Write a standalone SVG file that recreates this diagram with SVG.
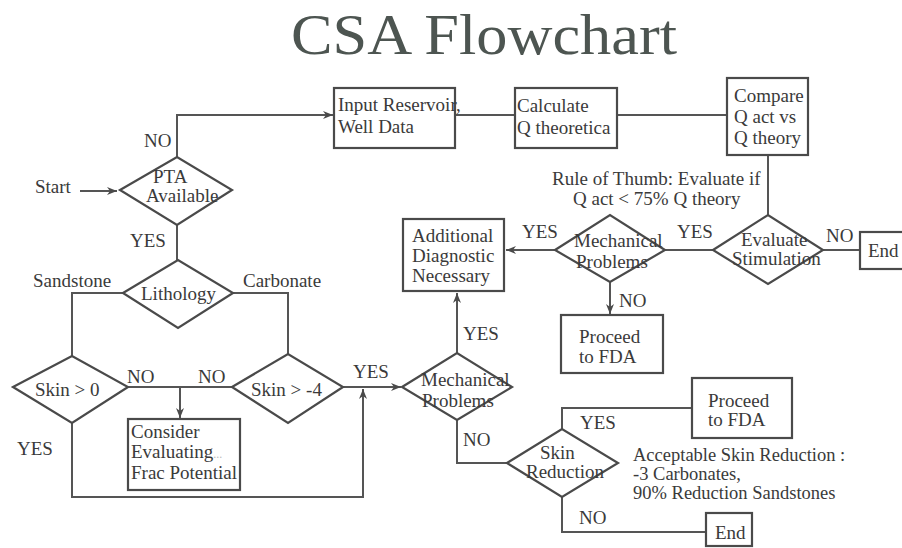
<svg xmlns="http://www.w3.org/2000/svg" width="902" height="548" viewBox="0 0 902 548">
<defs>
<marker id="arr" markerWidth="12" markerHeight="10" refX="10" refY="4" orient="auto" markerUnits="userSpaceOnUse">
<path d="M0,0 L10,4 L0,8 L3,4 z" fill="#4a4a4a"/>
</marker>
<style>
.t{font-family:"Liberation Serif","DejaVu Serif","Times New Roman",serif;font-size:19px;fill:#3a3a3a}
.n{font-size:18.5px}
.box{fill:none;stroke:#4a4a4a;stroke-width:2.2}
.dia{fill:none;stroke:#4a4a4a;stroke-width:2.2}
.c{fill:none;stroke:#555;stroke-width:2}
.a{marker-end:url(#arr)}
</style>
</defs>
<rect width="902" height="548" fill="#ffffff"/>
<text x="291" y="54" font-family="Liberation Serif, DejaVu Serif, Times New Roman, serif" font-size="58" fill="#4d5551" textLength="386" lengthAdjust="spacingAndGlyphs">CSA Flowchart</text>

<g id="connectors">
<path class="c a" d="M80,191 H117"/>
<path class="c a" d="M177,157 V115 H333"/>
<path class="c" d="M455,115 H515"/>
<path class="c" d="M617,115 H727"/>
<path class="c" d="M768,155 V215"/>
<path class="c" d="M823,250 H860"/>
<path class="c" d="M713,250 H665"/>
<path class="c a" d="M555,250 H506"/>
<path class="c a" d="M610,282 V314"/>
<path class="c" d="M177,225 V260"/>
<path class="c" d="M123,293 H72 V356"/>
<path class="c" d="M233,293 H288 V354"/>
<path class="c" d="M128,387 H232"/>
<path class="c a" d="M180,387 V418"/>
<path class="c a" d="M72,423 V497 H363 V389"/>
<path class="c a" d="M343,387 H401"/>
<path class="c a" d="M457,353 V293"/>
<path class="c" d="M457,420 V463 H507"/>
<path class="c" d="M562,429 V408 H692"/>
<path class="c" d="M562,497 V532 H706"/>
</g>

<g id="start"><text class="t" x="35" y="193">Start</text></g>

<g id="pta">
<polygon class="dia" points="120,190 177,157 232,190 177,225"/>
<text class="t" x="153" y="183">PTA</text>
<text class="t" x="146" y="202">Available</text>
</g>

<g id="input">
<rect class="box" x="334" y="88" width="121" height="60"/>
<text class="t" x="338" y="111">Input Reservoir,</text>
<text class="t" x="338" y="133">Well Data</text>
</g>

<g id="calculate">
<rect class="box" x="515" y="88" width="102" height="60"/>
<text class="t" x="517" y="112">Calculate</text>
<text class="t" x="517" y="134">Q theoretica</text>
</g>

<g id="compare">
<rect class="box" x="727" y="78" width="81" height="77"/>
<text class="t" x="734" y="102">Compare</text>
<text class="t" x="734" y="123">Q act vs</text>
<text class="t" x="734" y="144">Q theory</text>
</g>

<g id="rule">
<text class="t" x="552" y="185">Rule of Thumb: Evaluate  if</text>
<text class="t" x="573" y="205">Q act &lt; 75% Q theory</text>
</g>

<g id="evaluate">
<polygon class="dia" points="713,250 768,215 823,250 768,284"/>
<text class="t" x="741" y="246">Evaluate</text>
<text class="t" x="732" y="265">Stimulation</text>
</g>

<g id="end1">
<rect class="box" x="860" y="232" width="48" height="37"/>
<text class="t" x="868" y="257">End</text>
</g>

<g id="mech1">
<polygon class="dia" points="555,250 610,215 665,250 610,282"/>
<text class="t" x="574" y="247">Mechanical</text>
<text class="t" x="576" y="268">Problems</text>
</g>

<g id="additional">
<rect class="box" x="403" y="219" width="101" height="72"/>
<text class="t" x="412" y="242">Additional</text>
<text class="t" x="412" y="262">Diagnostic</text>
<text class="t" x="412" y="282">Necessary</text>
</g>

<g id="proceed1">
<rect class="box" x="561" y="315" width="102" height="58"/>
<text class="t" x="579" y="343">Proceed</text>
<text class="t" x="579" y="363">to FDA</text>
</g>

<g id="lithology">
<polygon class="dia" points="123,293 178,260 233,293 178,328"/>
<text class="t" x="141" y="300">Lithology</text>
</g>

<g id="skin0">
<polygon class="dia" points="13,387 72,356 128,387 72,423"/>
<text class="t" x="35" y="396">Skin &gt; 0</text>
</g>

<g id="skin4">
<polygon class="dia" points="232,387 288,354 343,387 288,423"/>
<text class="t" x="251" y="396">Skin &gt; -4</text>
</g>

<g id="consider">
<rect class="box" x="128" y="419" width="112" height="71"/>
<text class="t" x="131" y="438">Consider</text>
<text class="t" x="131" y="458">Evaluating<tspan fill="#bbb" font-size="12">...</tspan></text>
<text class="t" x="131" y="479">Frac Potential</text>
</g>

<g id="mech2">
<polygon class="dia" points="402,387 457,353 512,387 457,420"/>
<text class="t" x="421" y="386">Mechanical</text>
<text class="t" x="422" y="407">Problems</text>
</g>

<g id="skinred">
<polygon class="dia" points="507,463 562,429 618,463 562,497"/>
<text class="t" x="540" y="459">Skin</text>
<text class="t" x="526" y="478">Reduction</text>
</g>

<g id="proceed2">
<rect class="box" x="692" y="378" width="100" height="60"/>
<text class="t" x="708" y="407">Proceed</text>
<text class="t" x="708" y="426">to FDA</text>
</g>

<g id="note">
<text class="t n" x="633" y="461">Acceptable Skin Reduction :</text>
<text class="t n" x="633" y="480">-3 Carbonates,</text>
<text class="t n" x="633" y="499">90% Reduction Sandstones</text>
</g>

<g id="end2">
<rect class="box" x="706" y="513" width="46" height="33"/>
<text class="t" x="715" y="539">End</text>
</g>

<g id="labels">
<text class="t" x="144" y="147">NO</text>
<text class="t" x="130" y="247">YES</text>
<text class="t" x="33" y="287">Sandstone</text>
<text class="t" x="243" y="287">Carbonate</text>
<text class="t" x="127" y="383">NO</text>
<text class="t" x="198" y="383">NO</text>
<text class="t" x="353" y="378">YES</text>
<text class="t" x="17" y="455">YES</text>
<text class="t" x="463" y="340">YES</text>
<text class="t" x="463" y="446">NO</text>
<text class="t" x="580" y="429">YES</text>
<text class="t" x="579" y="524">NO</text>
<text class="t" x="522" y="238">YES</text>
<text class="t" x="677" y="238">YES</text>
<text class="t" x="826" y="242">NO</text>
<text class="t" x="619" y="307">NO</text>
</g>
</svg>
